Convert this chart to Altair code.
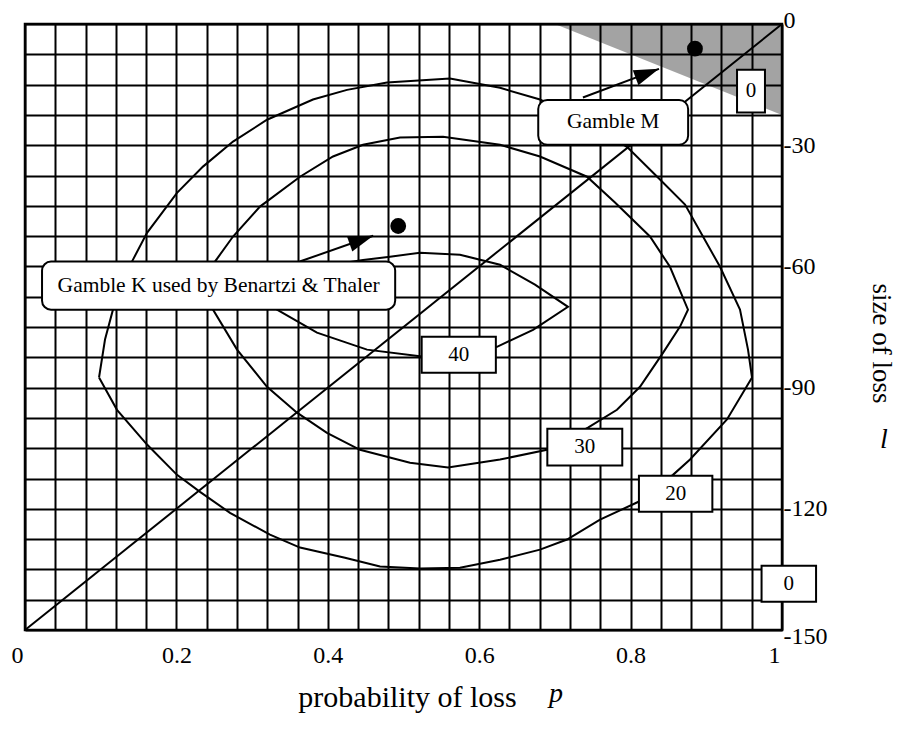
import math
import altair as alt
import pandas as pd

W, H = 757, 606
FONT = "Liberation Serif"

# ---- contour curves: probability of loss p, size of loss l ----
c20_p = [0.0978, 0.1057, 0.1162, 0.1413, 0.1612, 0.2008, 0.2351, 0.2748, 0.3197, 0.3804,
         0.4254, 0.4782, 0.5614, 0.6275, 0.6803, 0.7398, 0.7952, 0.8388, 0.8719, 0.9181,
         0.9445, 0.9551, 0.9604, 0.9273, 0.8785, 0.8560, 0.8111, 0.7596, 0.7160, 0.6803,
         0.6275, 0.5746, 0.5218, 0.4690, 0.4227, 0.3633, 0.3236, 0.2708, 0.2312, 0.2008,
         0.1612, 0.1215, 0.0978]
c20_l = [-87.5, -78.1, -70.7, -58.8, -51.7, -41.8, -35.3, -29.1, -23.7, -18.7,
         -16.3, -14.5, -13.5, -15.8, -18.7, -24.2, -30.4, -38.5, -44.7, -60.1,
         -70.7, -80.6, -87.5, -97.9, -107.8, -111.6, -118.2, -122.7, -127.6, -130.1,
         -132.6, -134.6, -134.8, -134.3, -132.1, -129.6, -126.4, -121.0, -115.8, -111.6,
         -104.1, -95.5, -87.5]

c30_p = [0.2404, 0.2510, 0.2748, 0.3104, 0.3633, 0.4069, 0.4465, 0.4954, 0.5522, 0.6275,
         0.6803, 0.7424, 0.7794, 0.8256, 0.8520, 0.8758, 0.8653, 0.8428, 0.8124, 0.7820,
         0.7437, 0.6896, 0.6275, 0.5588, 0.5086, 0.4425, 0.3989, 0.3593, 0.3197, 0.2801,
         0.2483, 0.2404]
c30_l = [-64.8, -58.8, -52.6, -45.2, -37.8, -32.8, -29.9, -28.1, -27.9, -29.9,
         -32.8, -37.8, -44.2, -52.6, -60.1, -70.7, -74.9, -81.4, -89.8, -95.5,
         -99.9, -105.4, -107.8, -109.8, -108.6, -105.4, -101.2, -96.2, -89.8, -80.6,
         -70.7, -64.8]

c40_p = [0.2972, 0.3633, 0.4465, 0.4822, 0.5218, 0.5746, 0.6275, 0.6737, 0.7173, 0.6711,
         0.6235, 0.5746, 0.5244, 0.4518, 0.3857, 0.3329, 0.2972]
c40_l = [-65.8, -60.8, -58.4, -57.6, -56.6, -57.1, -59.6, -64.5, -70.0, -75.7,
         -79.9, -81.4, -82.3, -80.6, -76.4, -70.7, -65.8]

# diagonal line
diag_p = [0.0, 1.0]
diag_l = [-150.0, 0.0]

# hatched (infeasible) region
hatch_p = [0.7, 1.0]
hatch_low = [0.0, -22.5]
hatch_high = [0.0, 0.0]

# gambles
gamble_p = [0.493, 0.885]
gamble_l = [-50.0, -6.1]

# arrows pointing at the gambles
arrow_p0 = [0.363, 0.737]
arrow_l0 = [-58.8, -18.2]
arrow_p1 = [0.460, 0.8375]
arrow_l1 = [-52.4, -11.1]

# callout boxes
call_text = ["Gamble K used by Benartzi & Thaler", "Gamble M"]
call_p1 = [0.0225, 0.678]
call_p2 = [0.489, 0.876]
call_l1 = [-58.8, -18.8]
call_l2 = [-70.7, -29.9]

# contour label boxes
lab_text = ["40", "30", "20", "0", "0"]
lab_p1 = [0.524, 0.690, 0.811, 0.9406, 0.973]
lab_p2 = [0.622, 0.789, 0.908, 0.9775, 1.045]
lab_l1 = [-77.4, -100.2, -111.8, -11.3, -134.1]
lab_l2 = [-86.3, -109.3, -120.7, -21.9, -143.0]

x_grid = [round(k * 0.04, 2) for k in range(26)]
y_grid = [-7.5 * k for k in range(21)]

# ---- data frames ----
curve_rows = []
for name, ps, ls in [("20", c20_p, c20_l), ("30", c30_p, c30_l), ("40", c40_p, c40_l)]:
    for i, (p, l) in enumerate(zip(ps, ls)):
        curve_rows.append({"curve": name, "i": i, "p": p, "l": l})
curves_df = pd.DataFrame(curve_rows)
diag_df = pd.DataFrame({"p": diag_p, "l": diag_l})
hatch_df = pd.DataFrame({"p": hatch_p, "l": hatch_low, "l2": hatch_high})
gamble_df = pd.DataFrame({"p": gamble_p, "l": gamble_l})

arrow_rows = []
head_rows = []
for k in range(len(arrow_p0)):
    arrow_rows.append({"a": k, "i": 0, "p": arrow_p0[k], "l": arrow_l0[k]})
    arrow_rows.append({"a": k, "i": 1, "p": arrow_p1[k], "l": arrow_l1[k]})
    dx = (arrow_p1[k] - arrow_p0[k]) * W
    dy = -(arrow_l1[k] - arrow_l0[k]) * H / 150.0
    ang = math.degrees(math.atan2(dy, dx)) % 360
    head_rows.append({"p": arrow_p1[k], "l": arrow_l1[k], "ang": ang})
arrow_df = pd.DataFrame(arrow_rows)
head_df = pd.DataFrame(head_rows)

call_df = pd.DataFrame({"t": call_text, "p1": call_p1, "p2": call_p2, "l1": call_l1, "l2": call_l2})
call_df["pm"] = (call_df.p1 + call_df.p2) / 2
call_df["lm"] = (call_df.l1 + call_df.l2) / 2
lab_df = pd.DataFrame({"t": lab_text, "p1": lab_p1, "p2": lab_p2, "l1": lab_l1, "l2": lab_l2})
lab_df["pm"] = (lab_df.p1 + lab_df.p2) / 2
lab_df["lm"] = (lab_df.l1 + lab_df.l2) / 2

# ---- scales / axes ----
xs = alt.Scale(domain=[0, 1], nice=False, zero=False)
ys = alt.Scale(domain=[-150, 0], nice=False, zero=False)

x_axis = alt.Axis(
    values=x_grid, grid=True, gridColor="black", gridWidth=2, gridOpacity=1,
    ticks=False, domain=False, labelOverlap=False, labelAngle=0, labelFlush=False,
    labelOffset={"condition": {"test": "datum.value == 0 || datum.value == 1", "value": -8}, "value": 0},
    labelExpr="round(datum.value*25) % 5 == 0 ? toString(round(datum.value*10)/10) : ''",
    labelFont=FONT, labelFontSize=24, labelColor="black", labelPadding=13,
    title="probability of loss", titleFont=FONT, titleFontSize=30, titleFontWeight="normal",
    titleColor="black", titleX=382, titleY=67, titleAlign="center", titleBaseline="middle",
)
y_axis = alt.Axis(
    orient="right", values=y_grid, grid=True, gridColor="black", gridWidth=2, gridOpacity=1,
    ticks=False, domain=False, labelOverlap=False, labelFlush=False,
    labelOffset={"condition": [{"test": "datum.value == 0", "value": -4},
                               {"test": "datum.value == -150", "value": 6}], "value": 0},
    labelExpr="datum.value % 30 == 0 ? (datum.value == 0 ? '0' : '-' + toString(abs(datum.value))) : ''",
    labelFont=FONT, labelFontSize=24, labelColor="black", labelPadding=1,
    title="size of loss", titleFont=FONT, titleFontSize=27, titleFontWeight="normal",
    titleColor="black", titleAngle=90, titleX=98, titleY=319, titleAlign="center",
    titleBaseline="middle",
)


def X(f):
    return alt.X(f, type="quantitative", scale=xs, axis=x_axis)


def Y(f):
    return alt.Y(f, type="quantitative", scale=ys, axis=y_axis)


hatch = alt.Chart(hatch_df).mark_area(color="black", opacity=0.36).encode(
    x=X("p"), y=Y("l"), y2="l2"
)
diag = alt.Chart(diag_df).mark_line(color="black", strokeWidth=2).encode(x=X("p"), y=Y("l"))
curves = alt.Chart(curves_df).mark_line(color="black", strokeWidth=2).encode(
    x=X("p"), y=Y("l"), detail="curve:N", order="i:Q"
)
arrows = alt.Chart(arrow_df).mark_line(color="black", strokeWidth=2).encode(
    x=X("p"), y=Y("l"), detail="a:N", order="i:Q"
)
heads = alt.Chart(head_df).mark_point(
    shape="M0,0 L-2,-0.64 L-2,0.64 Z", filled=True, color="black", opacity=1, size=625
).encode(x=X("p"), y=Y("l"), angle=alt.Angle("ang:Q", scale=None))
dots = alt.Chart(gamble_df).mark_circle(color="black", opacity=1, size=250).encode(
    x=X("p"), y=Y("l")
)
call_box = alt.Chart(call_df).mark_rect(
    fill="white", stroke="black", strokeWidth=2, cornerRadius=9
).encode(x=X("p1"), x2="p2", y=Y("l1"), y2="l2")
call_txt = alt.Chart(call_df).mark_text(font=FONT, fontSize=21.5, color="black").encode(
    x=X("pm"), y=Y("lm"), text="t:N"
)
lab_box = alt.Chart(lab_df).mark_rect(fill="white", stroke="black", strokeWidth=2).encode(
    x=X("p1"), x2="p2", y=Y("l1"), y2="l2"
)
lab_txt = alt.Chart(lab_df).mark_text(font=FONT, fontSize=21, color="black").encode(
    x=X("pm"), y=Y("lm"), text="t:N"
)
p_sym = alt.Chart(pd.DataFrame({"t": ["p"]})).mark_text(
    font=FONT, fontSize=28, fontStyle="italic", color="black"
).encode(x=alt.value(531), y=alt.value(670), text="t:N")
l_sym = alt.Chart(pd.DataFrame({"t": ["l"]})).mark_text(
    font=FONT, fontSize=28, fontStyle="italic", color="black"
).encode(x=alt.value(859), y=alt.value(416), text="t:N")

chart = alt.layer(
    hatch, diag, curves, arrows, heads, dots, call_box, call_txt, lab_box, lab_txt, p_sym, l_sym
).properties(
    width=W, height=H,
    autosize=alt.AutoSizeParams(type="none"),
    padding={"left": 17, "top": 16, "right": 117, "bottom": 95},
    background="white",
).configure_view(stroke="black", strokeWidth=2.5, fill="white")

chart.save("out.html", embed_options={"renderer": "svg", "actions": False})
